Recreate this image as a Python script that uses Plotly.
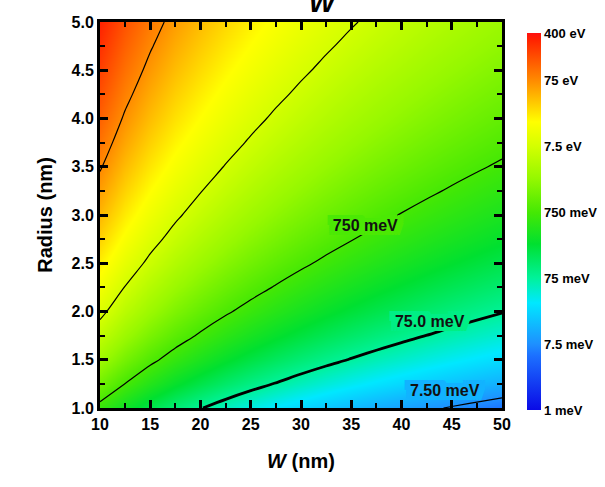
import plotly.graph_objects as go

# ---- data ----
W_nm = [10, 12.5, 15, 17.5, 20, 22.5, 25, 27.5, 30, 32.5, 35, 37.5, 40, 42.5, 45, 47.5, 50]
radius_nm = [1.0, 1.25, 1.5, 1.75, 2.0, 2.25, 2.5, 2.75, 3.0, 3.25, 3.5, 3.75, 4.0, 4.25, 4.5, 4.75, 5.0]
# log10(energy / eV), rows = radius, cols = W
log10_energy_eV = [
    [-0.222, -0.508, -0.741, -0.939, -1.110, -1.261, -1.396, -1.518, -1.629, -1.732, -1.827, -1.915, -1.998, -2.076, -2.149, -2.218, -2.284],
    [0.156, -0.130, -0.363, -0.561, -0.732, -0.883, -1.018, -1.140, -1.251, -1.354, -1.449, -1.537, -1.620, -1.698, -1.771, -1.840, -1.906],
    [0.465, 0.179, -0.054, -0.252, -0.423, -0.574, -0.709, -0.831, -0.942, -1.045, -1.140, -1.228, -1.311, -1.389, -1.462, -1.531, -1.597],
    [0.726, 0.440, 0.207, 0.009, -0.162, -0.313, -0.448, -0.570, -0.681, -0.784, -0.879, -0.967, -1.050, -1.128, -1.201, -1.270, -1.336],
    [0.952, 0.666, 0.433, 0.235, 0.064, -0.087, -0.222, -0.344, -0.455, -0.558, -0.653, -0.741, -0.824, -0.902, -0.975, -1.044, -1.110],
    [1.151, 0.865, 0.632, 0.434, 0.263, 0.112, -0.023, -0.145, -0.256, -0.359, -0.454, -0.542, -0.625, -0.703, -0.776, -0.845, -0.911],
    [1.330, 1.044, 0.811, 0.613, 0.442, 0.291, 0.156, 0.034, -0.077, -0.180, -0.275, -0.363, -0.446, -0.524, -0.597, -0.666, -0.732],
    [1.491, 1.205, 0.972, 0.774, 0.603, 0.452, 0.317, 0.195, 0.084, -0.019, -0.114, -0.202, -0.285, -0.363, -0.436, -0.505, -0.571],
    [1.639, 1.353, 1.120, 0.922, 0.751, 0.600, 0.465, 0.343, 0.232, 0.129, 0.034, -0.054, -0.137, -0.215, -0.288, -0.357, -0.423],
    [1.774, 1.488, 1.255, 1.057, 0.886, 0.735, 0.600, 0.478, 0.367, 0.264, 0.169, 0.081, -0.002, -0.080, -0.153, -0.222, -0.288],
    [1.900, 1.614, 1.381, 1.183, 1.012, 0.861, 0.726, 0.604, 0.493, 0.390, 0.295, 0.207, 0.124, 0.046, -0.027, -0.096, -0.162],
    [2.017, 1.731, 1.498, 1.300, 1.129, 0.978, 0.843, 0.721, 0.610, 0.507, 0.412, 0.324, 0.241, 0.163, 0.090, 0.021, -0.045],
    [2.126, 1.840, 1.607, 1.409, 1.238, 1.087, 0.952, 0.830, 0.719, 0.616, 0.521, 0.433, 0.350, 0.272, 0.199, 0.130, 0.064],
    [2.229, 1.943, 1.710, 1.512, 1.341, 1.190, 1.055, 0.933, 0.822, 0.719, 0.624, 0.536, 0.453, 0.375, 0.302, 0.233, 0.167],
    [2.326, 2.040, 1.807, 1.609, 1.438, 1.287, 1.152, 1.030, 0.919, 0.816, 0.721, 0.633, 0.550, 0.472, 0.399, 0.330, 0.264],
    [2.417, 2.131, 1.898, 1.700, 1.529, 1.378, 1.243, 1.121, 1.010, 0.907, 0.812, 0.724, 0.641, 0.563, 0.490, 0.421, 0.355],
    [2.504, 2.218, 1.985, 1.787, 1.616, 1.465, 1.330, 1.208, 1.097, 0.994, 0.899, 0.811, 0.728, 0.650, 0.577, 0.508, 0.442],
]
cbar_tickvals = [2.602, 1.875, 0.875, -0.125, -1.125, -2.125, -3.125]
cbar_ticktext = ["400 eV", "75 eV", "7.5 eV", "750 meV", "75 meV", "7.5 meV", "1 meV"]
thin_start, thin_end = -2.125, 1.875      # 7.5 meV ... 75 eV, one per decade
thick_level = -1.125                       # 75 meV
contour_labels = ["750 meV", "75.0 meV", "7.50 meV"]
label_W = [36.4, 42.8, 44.3]
label_R = [2.88, 1.88, 1.17]
x_ticks = [10, 15, 20, 25, 30, 35, 40, 45, 50]
y_ticks = [1.0, 1.5, 2.0, 2.5, 3.0, 3.5, 4.0, 4.5, 5.0]

ZMIN, ZMAX = -3.125, 2.602

colorscale = [
    [0.0, "#0a0ae6"],
    [0.144, "#1c70ff"],
    [0.175, "#1e90ff"],
    [0.284, "#00e8ff"],
    [0.35, "#00f29a"],
    [0.44, "#00e030"],
    [0.523, "#44e804"],
    [0.615, "#96f800"],
    [0.70, "#d4ff00"],
    [0.764, "#ffff00"],
    [0.873, "#ff8c00"],
    [0.982, "#ff2200"],
    [1.0, "#ff1010"],
]

FONT = "Arial, Liberation Sans, sans-serif"


def grid_value(wx, ry):
    """bilinear lookup in the grid (for label halos)"""
    i = max(k for k in range(len(radius_nm) - 1) if radius_nm[k] <= ry)
    j = max(k for k in range(len(W_nm) - 1) if W_nm[k] <= wx)
    ty = (ry - radius_nm[i]) / (radius_nm[i + 1] - radius_nm[i])
    tx = (wx - W_nm[j]) / (W_nm[j + 1] - W_nm[j])
    z = log10_energy_eV
    return ((1 - ty) * ((1 - tx) * z[i][j] + tx * z[i][j + 1])
            + ty * ((1 - tx) * z[i + 1][j] + tx * z[i + 1][j + 1]))


def scale_color(zv):
    f = min(max((zv - ZMIN) / (ZMAX - ZMIN), 0), 1)
    for (p0, c0), (p1, c1) in zip(colorscale[:-1], colorscale[1:]):
        if p0 <= f <= p1:
            t = (f - p0) / (p1 - p0) if p1 > p0 else 0
            a = [int(c0[k:k + 2], 16) for k in (1, 3, 5)]
            b = [int(c1[k:k + 2], 16) for k in (1, 3, 5)]
            return "#" + "".join(f"{round(x + (y - x) * t):02x}" for x, y in zip(a, b))
    return colorscale[-1][1]


def halo(c):
    offs = [(dx, dy) for dx in (-6, -3, 0, 3, 6) for dy in (-4, -2, 0, 2, 4)]
    return ", ".join(f"{dx}px {dy}px 0 {c}" for dx, dy in offs)


fig = go.Figure()
fig.add_trace(go.Heatmap(
    x=W_nm, y=radius_nm, z=log10_energy_eV,
    zmin=ZMIN, zmax=ZMAX, zsmooth="best",
    colorscale=colorscale, showscale=True,
    colorbar=dict(
        x=(517 - 100) / 402, xanchor="left",
        y=(408 - 420) / 386, yanchor="bottom",
        len=397 / 386, thickness=14, outlinewidth=0,
        tickvals=cbar_tickvals, ticktext=[f"<b>{t}</b>" for t in cbar_ticktext],
        tickfont=dict(family=FONT, size=13, color="black"),
    ),
))
fig.add_trace(go.Contour(
    x=W_nm, y=radius_nm, z=log10_energy_eV, autocontour=False,
    contours=dict(start=thin_start, end=thin_end, size=1, coloring="none"),
    line=dict(color="black", width=1.2), showscale=False,
))
fig.add_trace(go.Contour(
    x=W_nm, y=radius_nm, z=log10_energy_eV, autocontour=False,
    contours=dict(start=thick_level, end=thick_level + 0.5, size=1, coloring="none"),
    line=dict(color="black", width=2.8), showscale=False,
))

# contour labels as text marks with a halo in the local map colour
for txt, wx, ry in zip(contour_labels, label_W, label_R):
    c = scale_color(grid_value(wx, ry))
    fig.add_trace(go.Scatter(
        x=[wx], y=[ry], mode="text", text=[f"<b>{txt}</b>"], textposition="middle center",
        textfont=dict(family=FONT, size=16, color="#111", shadow=halo(c)),
        hoverinfo="skip", showlegend=False))

# panel letter "b" (placed left of the plot, outside the axes)
fig.add_trace(go.Scatter(
    x=[10 - (100 - 22) / 402 * 40], y=[5 + (22 - 20) / 386 * 4], mode="text",
    text=["<b>b</b>"], textposition="middle center",
    textfont=dict(family=FONT, size=38, color="black"),
    cliponaxis=False, hoverinfo="skip", showlegend=False))

axis_common = dict(
    showline=True, linewidth=3, linecolor="black", mirror="ticks",
    ticks="inside", ticklen=8, tickwidth=2.5, tickcolor="black",
    showgrid=False, zeroline=False,
    tickfont=dict(family=FONT, size=16, color="black"),
)
fig.update_xaxes(range=[10, 50], tickvals=x_ticks, ticktext=[f"<b>{v}</b>" for v in x_ticks],
                 minor=dict(tickvals=[v + 2.5 for v in x_ticks[:-1]], ticks="inside",
                            ticklen=5, tickwidth=2, tickcolor="black"),
                 title=dict(text="<b><i>W</i> (nm)</b>", standoff=22,
                            font=dict(family=FONT, size=20, color="black")),
                 **axis_common)
fig.update_yaxes(range=[1, 5], tickvals=y_ticks, ticktext=[f"<b>{v:.1f}</b>" for v in y_ticks],
                 minor=dict(tickvals=[v + 0.25 for v in y_ticks[:-1]], ticks="inside",
                            ticklen=5, tickwidth=2, tickcolor="black"),
                 title=dict(text="<b>Radius (nm)</b>", standoff=14,
                            font=dict(family=FONT, size=20, color="black")),
                 **axis_common)

fig.update_layout(
    width=605, height=487,
    margin=dict(l=100, r=103, t=22, b=79, autoexpand=False),
    plot_bgcolor="white",
    showlegend=False,
    title=dict(text="<b><i>W</i></b>", x=322 / 605, xanchor="center",
               y=1 - 12 / 487, yanchor="bottom", yref="container",
               font=dict(family=FONT, size=28, color="black")),
)
fig.write_html("out.html")
